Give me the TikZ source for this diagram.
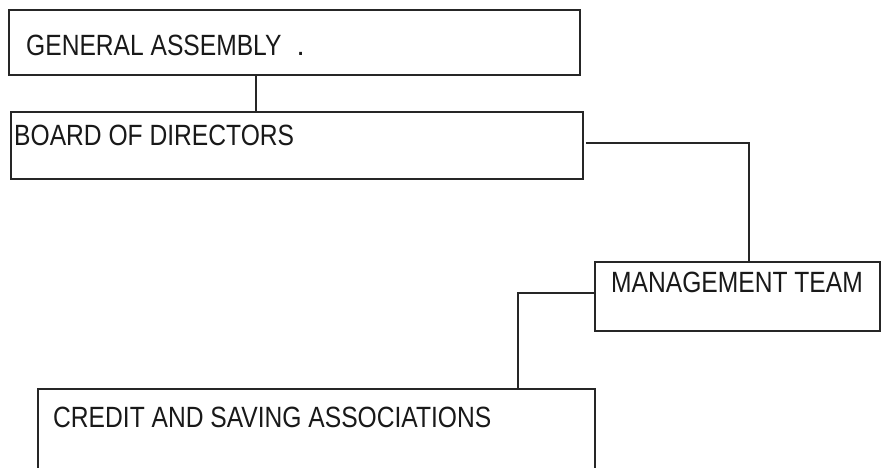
\documentclass[tikz,border=0pt]{standalone}
\usepackage{fontspec}
\usepackage{graphicx}
\setmainfont{Liberation Sans}
\newcommand{\lbltext}[1]{\scalebox{0.84}[1]{#1}}
\tikzset{
  box/.style={draw=black!85, line width=1.6pt, fill=white, rectangle, inner sep=0pt},
  lbl/.style={inner sep=0pt, anchor=base west, text=black!90, font=\fontsize{29.3}{32}\selectfont},
  conn/.style={draw=black!85, line width=1.6pt}
}
\begin{document}
\begin{tikzpicture}[x=1pt, y=-1pt]
\useasboundingbox (0,0) rectangle (883,468);
\clip (0,0) rectangle (883,468);
% boxes
\node[box, minimum width=571pt, minimum height=65pt] (GA) at (294.5,42.5) {};
\node[box, minimum width=572pt, minimum height=67pt] (BoD) at (297,145.5) {};
\node[box, minimum width=285pt, minimum height=69pt] (MT) at (737.5,296.5) {};
\node[box, minimum width=557pt, minimum height=84pt] (CSA) at (316.5,431) {};
% labels
\node[lbl] (tGA) at (26,56) {\lbltext{GENERAL ASSEMBLY}\hspace{15pt}.};
\node[lbl] (tBoD) at (14,146) {\lbltext{BOARD OF DIRECTORS}};
\node[lbl] (tMT) at (611,292) {\lbltext{MANAGEMENT TEAM}};
\node[lbl] (tCSA) at (53,427) {\lbltext{CREDIT AND SAVING ASSOCIATIONS}};
% connectors
\coordinate (c1) at (256,0);
\draw[conn] (GA.south -| c1) -- (BoD.north -| c1);
\coordinate (c2) at (749,143);
\draw[conn] ([xshift=2pt]BoD.east |- c2) -- (c2) -- (MT.north -| c2);
\coordinate (c3) at (518,293);
\draw[conn] (MT.west |- c3) -- (c3) -- (CSA.north -| c3);
\end{tikzpicture}
\end{document}
